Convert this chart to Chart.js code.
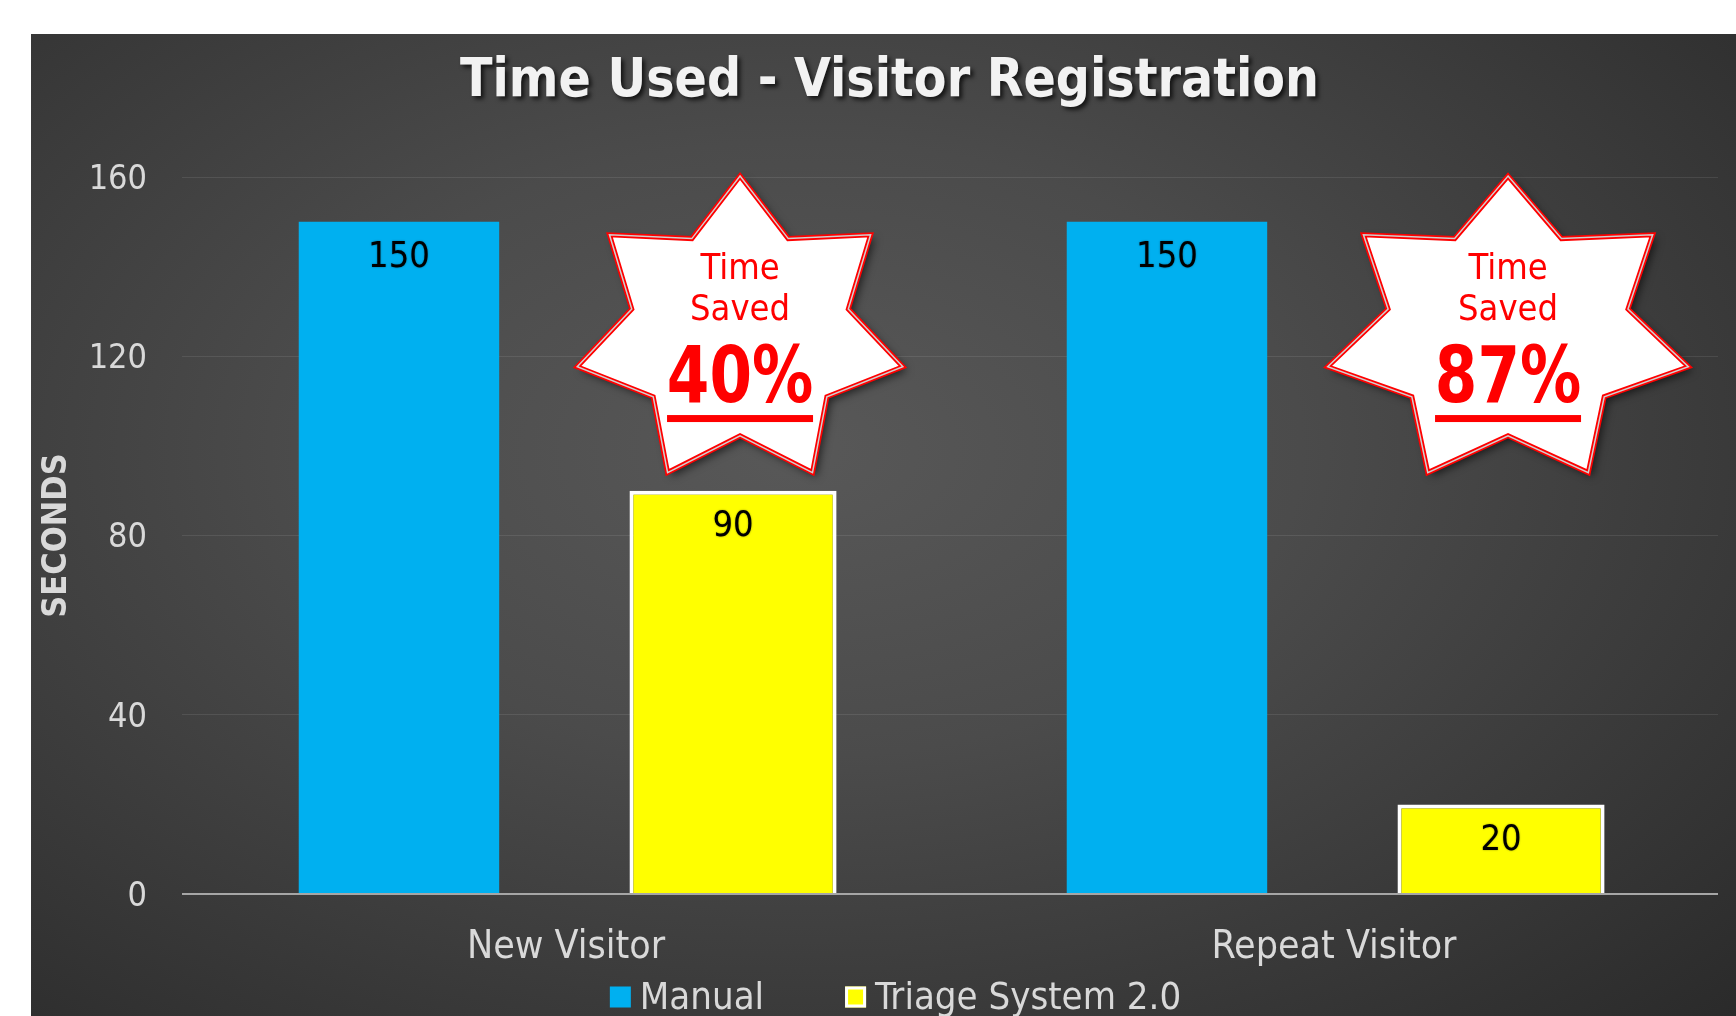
<!DOCTYPE html>
<html>
<head>
<meta charset="utf-8">
<title>Time Used - Visitor Registration</title>
<script src="https://cdn.jsdelivr.net/npm/chart.js@4.4.0/dist/chart.umd.min.js"></script>
<style>
  html, body { margin: 0; padding: 0; background: #fff; overflow: hidden; }
  #wrap {
    position: absolute; left: 31px; top: 34px; width: 1705px; height: 988px;
    background: radial-gradient(ellipse farthest-corner at 45% 42%, #585858 0%, #4b4b4b 38%, #2a2a2a 100%);
  }
</style>
</head>
<body>
<div id="wrap"><canvas id="timeChart"></canvas></div>
<script>
// Data
const categories = ['New Visitor', 'Repeat Visitor'];
const manualSeconds = [150, 150];
const triageSeconds = [90, 20];
const yTicks = [0, 40, 80, 120, 160];
const savedPercent = ['40%', '87%'];
const savedCaption = ['Time', 'Saved'];

const FONT = '"DejaVu Sans Condensed", "DejaVu Sans", sans-serif';

// Title with a drop shadow
const titlePlugin = {
  id: 'shadowTitle',
  afterDraw(chart) {
    const ctx = chart.ctx;
    ctx.save();
    ctx.font = 'bold 53px ' + FONT;
    ctx.textAlign = 'center';
    ctx.textBaseline = 'middle';
    ctx.shadowColor = 'rgba(0,0,0,0.7)';
    ctx.shadowBlur = 4;
    ctx.shadowOffsetX = 3;
    ctx.shadowOffsetY = 3;
    ctx.fillStyle = '#f2f2f2';
    ctx.fillText('Time Used - Visitor Registration', chart.width / 2 + 6, 48);
    ctx.restore();
  }
};

// Value labels inside the top of each bar
const valueLabels = {
  id: 'valueLabels',
  afterDatasetsDraw(chart) {
    const ctx = chart.ctx;
    ctx.save();
    ctx.font = '36px ' + FONT;
    ctx.textAlign = 'center';
    ctx.textBaseline = 'middle';
    ctx.fillStyle = '#000';
    ctx.shadowColor = 'rgba(0,0,0,0.4)';
    ctx.shadowBlur = 2;
    chart.data.datasets.forEach((ds, di) => {
      chart.getDatasetMeta(di).data.forEach((bar, i) => {
        ctx.fillText(ds.data[i], bar.x, bar.y + 36);
      });
    });
    ctx.restore();
  }
};

// "Time Saved" stars next to the triage bars
const starRadius = [167, 185];
const starPlugin = {
  id: 'stars',
  afterDatasetsDraw(chart) {
    const ctx = chart.ctx;
    const yScale = chart.scales.y;
    chart.getDatasetMeta(1).data.forEach((bar, i) => {
      const cx = bar.x + 7;
      const cy = yScale.getPixelForValue(125.4);
      const rx = starRadius[i], ry = 156;
      ctx.save();
      ctx.beginPath();
      for (let k = 0; k < 14; k++) {
        const a = -Math.PI / 2 + k * Math.PI / 7;
        const f = k % 2 === 0 ? 1 : 0.665;
        const px = cx + Math.cos(a) * rx * f;
        const py = cy + Math.sin(a) * ry * f;
        if (k === 0) ctx.moveTo(px, py); else ctx.lineTo(px, py);
      }
      ctx.closePath();
      ctx.shadowColor = 'rgba(0,0,0,0.6)';
      ctx.shadowBlur = 8;
      ctx.shadowOffsetX = 4;
      ctx.shadowOffsetY = 4;
      ctx.fillStyle = '#fff';
      ctx.fill();
      ctx.shadowColor = 'transparent';
      ctx.lineJoin = 'miter';
      ctx.strokeStyle = '#ff0000';
      ctx.lineWidth = 5;
      ctx.stroke();
      ctx.strokeStyle = '#d0d0d0';
      ctx.lineWidth = 1.5;
      ctx.stroke();

      ctx.fillStyle = '#ff0000';
      ctx.textAlign = 'center';
      ctx.textBaseline = 'middle';
      ctx.font = '36px ' + FONT;
      ctx.fillText(savedCaption[0], cx, cy - 62);
      ctx.fillText(savedCaption[1], cx, cy - 21);
      ctx.save();
      ctx.translate(cx, cy + 50);
      ctx.scale(1, 1.15);
      ctx.font = 'bold 68px ' + FONT;
      ctx.fillText(savedPercent[i], 0, 0);
      ctx.restore();
      ctx.fillRect(cx - 73, cy + 83, 146, 7);
      ctx.restore();
    });
  }
};

// Legend drawn under the category labels
const legendPlugin = {
  id: 'bottomLegend',
  afterDraw(chart) {
    const ctx = chart.ctx;
    ctx.save();
    ctx.font = '38px ' + FONT;
    ctx.textBaseline = 'middle';
    const box = 21, gap = 9, itemGap = 81;
    const items = chart.data.datasets.map(ds => ({
      text: ds.label,
      fill: ds.backgroundColor,
      stroke: ds.borderWidth ? ds.borderColor : null,
      w: box + gap + ctx.measureText(ds.label).width
    }));
    const total = items.reduce((a, it) => a + it.w, 0) + itemGap * (items.length - 1);
    let x = chart.width / 2 + 12 - total / 2;
    const y = chart.height - 25;
    items.forEach(it => {
      ctx.fillStyle = it.fill;
      ctx.fillRect(x, y - box / 2, box, box);
      if (it.stroke) {
        ctx.strokeStyle = it.stroke;
        ctx.lineWidth = 3;
        ctx.strokeRect(x + 1.5, y - box / 2 + 1.5, box - 3, box - 3);
      }
      ctx.fillStyle = '#d9d9d9';
      ctx.fillText(it.text, x + box + gap, y + 2);
      x += it.w + itemGap;
    });
    ctx.restore();
  }
};

const ctx = document.getElementById('timeChart').getContext('2d');

new Chart(ctx, {
  type: 'bar',
  data: {
    labels: categories,
    datasets: [
      {
        label: 'Manual',
        data: manualSeconds,
        backgroundColor: '#00B0F0',
        borderWidth: 0,
        categoryPercentage: 0.87,
        barPercentage: 0.6
      },
      {
        label: 'Triage System 2.0',
        data: triageSeconds,
        backgroundColor: '#FFFF00',
        borderColor: '#FFFFFF',
        borderWidth: 4,
        categoryPercentage: 0.87,
        barPercentage: 0.62
      }
    ]
  },
  options: {
    responsive: true,
    maintainAspectRatio: false,
    animation: false,
    layout: { padding: { top: 143, right: 18, left: 0, bottom: 0 } },
    scales: {
      x: {
        afterFit: s => { s.height = 128; },
        grid: { display: false, drawTicks: false },
        border: { display: false },
        ticks: { color: '#d9d9d9', font: { family: FONT, size: 39 }, padding: 30 }
      },
      y: {
        min: 0,
        max: 160,
        afterFit: s => { s.width = 151; },
        afterBuildTicks: s => { s.ticks = yTicks.map(v => ({ value: v })); },
        border: { display: false },
        grid: {
          drawTicks: false,
          color: c => c.tick.value === 0 ? '#a6a6a6' : 'rgba(255,255,255,0.09)',
          lineWidth: c => c.tick.value === 0 ? 2 : 1
        },
        ticks: { color: '#d9d9d9', font: { family: FONT, size: 34 }, padding: 35, labelOffset: 3 },
        title: {
          display: true,
          text: 'SECONDS',
          color: '#d9d9d9',
          font: { family: FONT, size: 34, weight: 'bold' },
          padding: { top: 6, bottom: 0 }
        }
      }
    },
    plugins: {
      tooltip: { enabled: false },
      legend: { display: false }
    }
  },
  plugins: [titlePlugin, valueLabels, starPlugin, legendPlugin]
});
</script>
</body>
</html>
